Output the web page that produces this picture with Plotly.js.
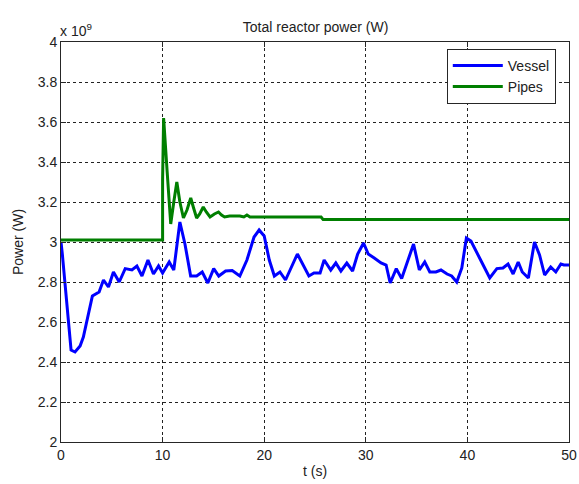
<!DOCTYPE html>
<html>
<head>
<meta charset="utf-8">
<script src="https://cdn.plot.ly/plotly-3.0.1.min.js"></script>
<style>body{margin:0;background:#fff}#chart{width:579px;height:484px}</style>
</head>
<body>
<div id="chart"></div>
<script>
// Values in units of 1e9 W
const vesselT = [0, 0.13, 0.99, 1.38, 1.88, 2.2, 3.09, 3.52, 3.75, 4.18, 4.67, 5.16, 5.73, 6.32, 6.98, 7.47, 7.97, 8.56, 9.1, 9.6, 10.0, 10.65, 11.1, 11.7, 12.2, 12.76, 13.35, 13.9, 14.45, 15.03, 15.53, 16.2, 16.85, 17.6, 18.3, 19.0, 19.5, 20.0, 20.5, 21.0, 21.55, 22.1, 23.27, 24.4, 24.9, 25.5, 25.9, 26.55, 27.05, 27.55, 28.13, 28.7, 29.2, 29.78, 30.24, 30.83, 31.5, 32.0, 32.4, 33.0, 33.53, 34.7, 35.27, 35.8, 36.3, 36.9, 37.4, 38.0, 38.45, 38.95, 39.45, 39.9, 40.35, 41.3, 42.2, 42.9, 43.5, 44.0, 44.5, 45.0, 45.4, 46.0, 46.6, 47.1, 47.6, 48.2, 48.7, 49.2, 49.5, 50];
const vesselP = [3.0, 2.94, 2.46, 2.45, 2.48, 2.525, 2.73, 2.745, 2.75, 2.81, 2.775, 2.85, 2.80, 2.867, 2.86, 2.88, 2.83, 2.91, 2.84, 2.88, 2.845, 2.90, 2.86, 3.10, 2.99, 2.83, 2.83, 2.85, 2.795, 2.867, 2.83, 2.855, 2.857, 2.83, 2.91, 3.025, 3.06, 3.03, 2.91, 2.83, 2.85, 2.81, 2.94, 2.83, 2.845, 2.845, 2.91, 2.86, 2.895, 2.855, 2.895, 2.855, 2.94, 2.995, 2.94, 2.92, 2.895, 2.885, 2.795, 2.867, 2.817, 2.99, 2.86, 2.90, 2.85, 2.85, 2.86, 2.84, 2.83, 2.80, 2.87, 3.02, 3.005, 2.91, 2.82, 2.867, 2.87, 2.89, 2.84, 2.90, 2.85, 2.82, 3.00, 2.935, 2.835, 2.875, 2.85, 2.89, 2.885, 2.885];
const pipesT = [0, 10.0, 10.0, 10.1, 10.45, 10.8, 11.1, 11.4, 11.7, 12.05, 12.4, 12.77, 13.05, 13.35, 13.65, 14.0, 14.3, 14.67, 15.1, 15.5, 15.8, 16.1, 16.6, 17.6, 18.0, 18.3, 18.6, 25.6, 25.8, 50];
const pipesP = [3.01, 3.01, 3.31, 3.62, 3.35, 3.09, 3.2, 3.30, 3.2, 3.12, 3.16, 3.22, 3.17, 3.12, 3.14, 3.175, 3.15, 3.125, 3.14, 3.15, 3.135, 3.125, 3.13, 3.13, 3.125, 3.135, 3.125, 3.125, 3.112, 3.112];
const xTicks = [0, 10, 20, 30, 40, 50];
const yTicks = [2, 2.2, 2.4, 2.6, 2.8, 3, 3.2, 3.4, 3.6, 3.8, 4];
const yTickText = ['2', '2.2', '2.4', '2.6', '2.8', '3', '3.2', '3.4', '3.6', '3.8', '4'];

const axisCommon = {
  showline: true, linecolor: '#262626', linewidth: 1, mirror: 'ticks',
  ticks: 'inside', ticklen: 5, tickcolor: '#262626',
  showgrid: true, gridcolor: '#222', griddash: '3px,3px', gridwidth: 1,
  zeroline: false,
  tickfont: {family: 'Liberation Sans, Arial, sans-serif', size: 14, color: '#222'}
};

const data = [
  {x: vesselT, y: vesselP, mode: 'lines', name: 'Vessel', line: {color: '#0000ff', width: 3}},
  {x: pipesT, y: pipesP, mode: 'lines', name: 'Pipes', line: {color: '#007f00', width: 3}}
];

const layout = {
  width: 579, height: 484,
  margin: {l: 61, r: 10, t: 42, b: 42},
  paper_bgcolor: '#fff', plot_bgcolor: '#fff',
  font: {family: 'Liberation Sans, Arial, sans-serif', color: '#222'},
  title: {text: 'Total reactor power (W)', font: {size: 14, color: '#222'}, x: 0.545, xanchor: 'center',
    yref: 'container', y: 0.944, yanchor: 'middle'},
  xaxis: Object.assign({}, axisCommon, {range: [0, 50], tickvals: xTicks, ticktext: xTicks.map(String),
    title: {text: 't (s)', font: {size: 14, color: '#222'}, standoff: 4}}),
  yaxis: Object.assign({}, axisCommon, {range: [2, 4], tickvals: yTicks, ticktext: yTickText,
    title: {text: 'Power (W)', font: {size: 14, color: '#222'}, standoff: 10}}),
  showlegend: true,
  legend: {x: 0.974, y: 0.983, xanchor: 'right', yanchor: 'top', bgcolor: '#fff', bordercolor: '#262626', borderwidth: 1,
    font: {size: 14, color: '#222'}, itemwidth: 50, tracegroupgap: 0},
  annotations: [{xref: 'paper', yref: 'paper', x: -0.005, y: 1.003, xanchor: 'left', yanchor: 'bottom', showarrow: false,
    text: 'x 10<sup>9</sup>', font: {size: 14, color: '#222'}}]
};

Plotly.newPlot('chart', data, layout, {displayModeBar: false, staticPlot: true});
</script>
</body>
</html>
